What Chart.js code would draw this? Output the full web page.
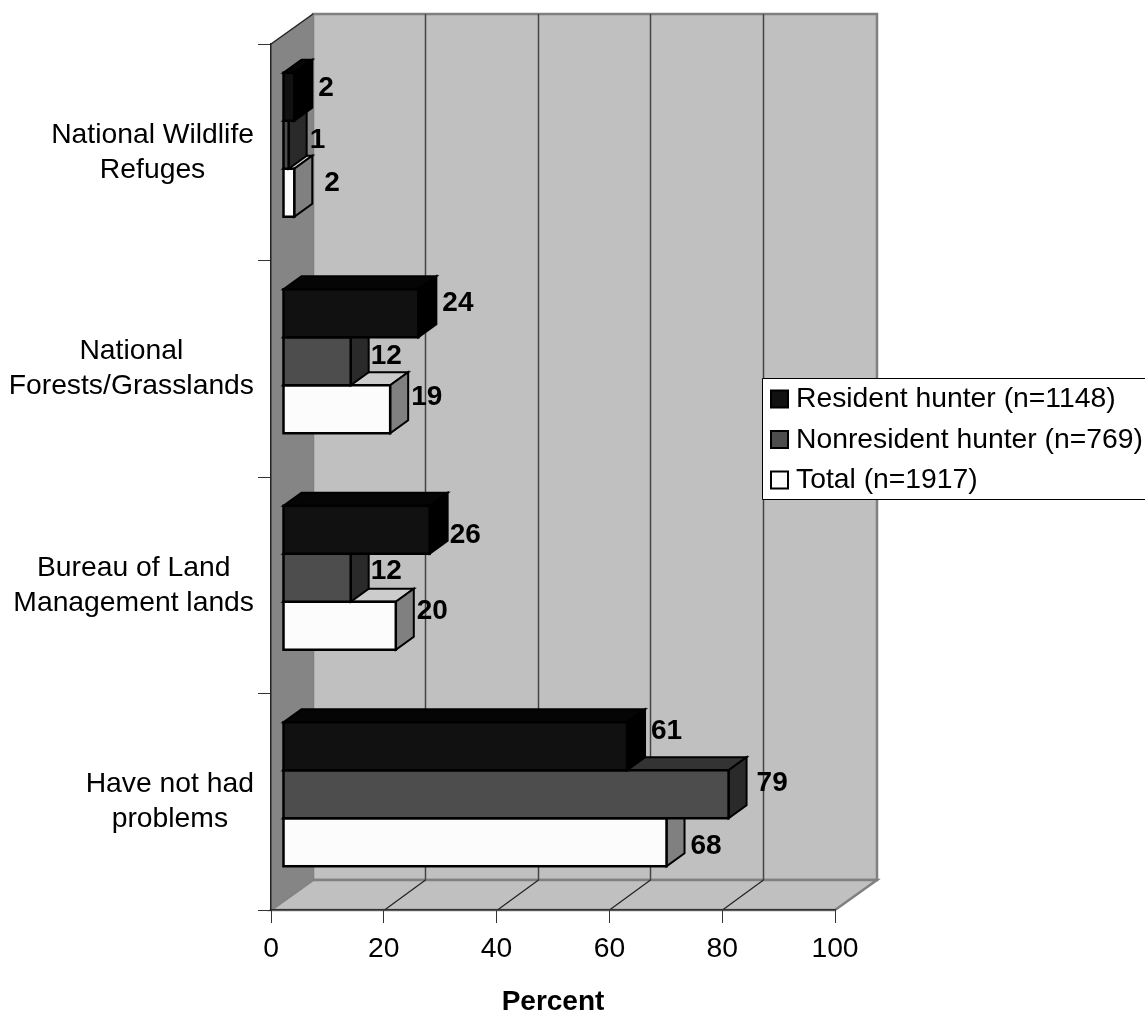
<!DOCTYPE html>
<html>
<head>
<meta charset="utf-8">
<title>Percent</title>
<script src="https://cdn.jsdelivr.net/npm/chart.js@4"></script>
<style>
  html, body { margin: 0; padding: 0; background: #fff; overflow: hidden; }
  canvas { display: block; }
</style>
</head>
<body>
<canvas id="myChart" width="1145" height="1013"></canvas>
<script>
var categories = [
  ["National Wildlife", "Refuges"],
  ["National", "Forests/Grasslands"],
  ["Bureau of Land", "Management lands"],
  ["Have not had", "problems"]
];
var seriesNames = ["Resident hunter (n=1148)", "Nonresident hunter (n=769)", "Total (n=1917)"];
var resident = [2, 24, 26, 61];
var nonresident = [1, 12, 12, 79];
var total = [2, 19, 20, 68];
var percentTicks = [0, 20, 40, 60, 80, 100];

// colours: front, side, top of each series
var faces = [
  ["#111111", "#000000", "#050505"],
  ["#4d4d4d", "#2a2a2a", "#333333"],
  ["#fcfcfc", "#808080", "#cccccc"]
];

// hand placed labels in the original, so each one has its own nudge
var labelNudge = [
  [[6, -8], [6, -10], [2, 6], [6, -15]],
  [[3, -4], [2, -5], [2, -6], [10, -11]],
  [[12, -9], [3, -12], [3, -14], [6, 4]]
];

var FONT = '"Liberation Sans", Arial, sans-serif';
var WALL_DX = 42, WALL_DY = -30;    // depth of the 3d box
var GRID_DX = 41;
var BAR_SHIFT_X = 12, BAR_SHIFT_Y = -7.5;  // bars stand inside the box
var BAR_DX = 18, BAR_DY = -13;      // depth of each bar

function poly(ctx, pts, fill, stroke, width) {
  ctx.beginPath();
  ctx.moveTo(pts[0][0], pts[0][1]);
  for (var i = 1; i < pts.length; i++) ctx.lineTo(pts[i][0], pts[i][1]);
  ctx.closePath();
  ctx.fillStyle = fill;
  ctx.fill();
  if (stroke) {
    ctx.strokeStyle = stroke;
    ctx.lineWidth = width;
    ctx.lineJoin = "miter";
    ctx.stroke();
  }
}

function line(ctx, x1, y1, x2, y2, color, width) {
  ctx.beginPath();
  ctx.moveTo(x1, y1);
  ctx.lineTo(x2, y2);
  ctx.strokeStyle = color;
  ctx.lineWidth = width;
  ctx.stroke();
}

var box3d = {
  id: "box3d",
  beforeDraw: function (chart) {
    var ctx = chart.ctx, a = chart.chartArea, xs = chart.scales.x;
    var l = a.left, r = a.right, t = a.top, b = a.bottom;
    ctx.save();
    // back wall
    poly(ctx, [[l + WALL_DX, t + WALL_DY], [r + WALL_DX, t + WALL_DY], [r + WALL_DX, b + WALL_DY], [l + WALL_DX, b + WALL_DY]], "#c0c0c0", "#808080", 2.5);
    // floor
    poly(ctx, [[l, b], [r, b], [r + WALL_DX, b + WALL_DY], [l + WALL_DX, b + WALL_DY]], "#c0c0c0", "#808080", 2.5);
    // left wall
    poly(ctx, [[l, t], [l + WALL_DX, t + WALL_DY], [l + WALL_DX, b + WALL_DY], [l, b]], "#858585");
    line(ctx, l, t, l + WALL_DX, t + WALL_DY, "#222", 1.5);
    // grid on wall and floor
    percentTicks.forEach(function (v) {
      if (v === 0 || v === 100) return;
      var px = Math.round(xs.getPixelForValue(v)) + 0.5;
      line(ctx, px + GRID_DX, t + WALL_DY, px + GRID_DX, b + WALL_DY, "#444", 1.5);
      line(ctx, px, b, px + GRID_DX, b + WALL_DY, "#222", 1.2);
    });
    ctx.restore();
  },
  beforeDatasetDraw: function (chart, args) {
    var ctx = chart.ctx, f = faces[args.index];
    ctx.save();
    ctx.translate(BAR_SHIFT_X, BAR_SHIFT_Y);
    args.meta.data.forEach(function (el) {
      var p = el.getProps(["x", "y", "base", "height"], true);
      var y0 = p.y - p.height / 2, y1 = p.y + p.height / 2;
      poly(ctx, [[p.base, y0], [p.x, y0], [p.x + BAR_DX, y0 + BAR_DY], [p.base + BAR_DX, y0 + BAR_DY]], f[2], "#000", 2);
      poly(ctx, [[p.x, y0], [p.x + BAR_DX, y0 + BAR_DY], [p.x + BAR_DX, y1 + BAR_DY], [p.x, y1]], f[1], "#000", 2);
    });
  },
  afterDatasetDraw: function (chart, args) {
    var ctx = chart.ctx;
    // outline of the front faces, centred on the bar edge
    ctx.strokeStyle = "#000";
    ctx.lineWidth = 2.5;
    args.meta.data.forEach(function (el) {
      var p = el.getProps(["x", "y", "base", "height"], true);
      ctx.strokeRect(p.base, p.y - p.height / 2, p.x - p.base, p.height);
    });
    ctx.restore();
  },
  afterDatasetsDraw: function (chart) {
    var ctx = chart.ctx, ys = chart.scales.y;
    ctx.save();

    // value labels
    ctx.font = "bold 28px " + FONT;
    ctx.fillStyle = "#000";
    ctx.textAlign = "left";
    ctx.textBaseline = "middle";
    chart.data.datasets.forEach(function (ds, i) {
      chart.getDatasetMeta(i).data.forEach(function (el, j) {
        var n = labelNudge[i][j];
        ctx.fillText(ds.data[j], el.x + BAR_SHIFT_X + BAR_DX + n[0], el.y + BAR_SHIFT_Y + n[1]);
      });
    });

    // category labels: each block centred on itself and right aligned to the axis
    ctx.font = "28.3px " + FONT;
    ctx.textAlign = "center";
    categories.forEach(function (lines, i) {
      var w = Math.max(ctx.measureText(lines[0]).width, ctx.measureText(lines[1]).width);
      var cx = 254 - w / 2, cy = ys.getPixelForTick(i);
      ctx.fillText(lines[0], cx, cy - 17.5);
      ctx.fillText(lines[1], cx, cy + 17.5);
    });

    // legend
    var lx = 762.5, ly = 378.5;
    ctx.fillStyle = "#fff";
    ctx.fillRect(lx, ly, 1145 - lx, 121);
    line(ctx, 1146, ly, lx, ly, "#000", 1);
    line(ctx, lx, ly, lx, ly + 121, "#000", 1);
    line(ctx, lx, ly + 121, 1146, ly + 121, "#000", 1);
    ctx.textAlign = "left";
    chart.data.datasets.forEach(function (ds, i) {
      var cy = 399.5 + i * 40.5;
      ctx.fillStyle = ds.backgroundColor;
      ctx.strokeStyle = "#000";
      ctx.lineWidth = 2;
      ctx.fillRect(771, cy - 9, 17, 17);
      ctx.strokeRect(771, cy - 9, 17, 17);
      ctx.fillStyle = "#000";
      ctx.fillText(ds.label, 796, cy);
    });
    ctx.restore();
  }
};

var ctx = document.getElementById("myChart");
var myChart = new Chart(ctx, {
  type: "bar",
  plugins: [box3d],
  data: {
    labels: categories,
    datasets: [resident, nonresident, total].map(function (values, i) {
      return {
        label: seriesNames[i],
        data: values,
        backgroundColor: faces[i][0],
        borderWidth: 0,
        barPercentage: 1,
        categoryPercentage: 0.665,
        clip: false
      };
    })
  },
  options: {
    indexAxis: "y",
    responsive: false,
    animation: false,
    layout: { padding: { top: 44, right: 310, bottom: 0, left: 0 } },
    plugins: {
      legend: { display: false },
      tooltip: { enabled: false }
    },
    scales: {
      x: {
        min: 0,
        max: 100,
        afterBuildTicks: function (scale) {
          scale.ticks = percentTicks.map(function (v) { return { value: v }; });
        },
        afterFit: function (scale) { scale.height = 103; },
        grid: { drawOnChartArea: false, drawTicks: true, tickLength: 13, color: "#333" },
        border: { color: "#333", width: 1.5 },
        ticks: { color: "#000", font: { family: FONT, size: 28.3 }, padding: 9, maxRotation: 0 },
        title: {
          display: true,
          text: "Percent",
          color: "#000",
          font: { family: FONT, size: 28, weight: "bold", lineHeight: 1 },
          padding: { top: 0, bottom: -3 }
        }
      },
      y: {
        afterFit: function (scale) { scale.width = 271; },
        grid: { drawOnChartArea: false, drawTicks: true, tickLength: 13, color: "#333" },
        border: { color: "#222", width: 1.5 },
        ticks: { display: false, autoSkip: false }
      }
    }
  }
});
</script>
</body>
</html>
